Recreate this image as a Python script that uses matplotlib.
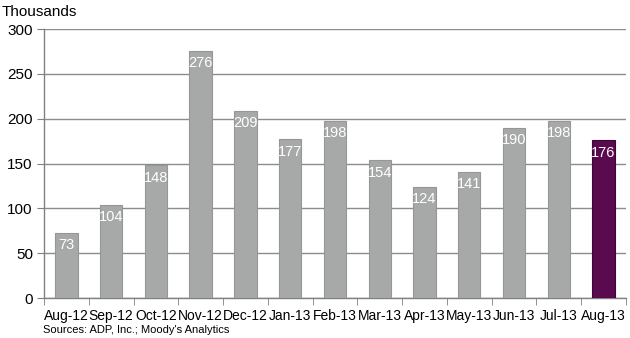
import matplotlib.pyplot as plt
import numpy as np

months = ["Aug-12", "Sep-12", "Oct-12", "Nov-12", "Dec-12", "Jan-13", "Feb-13",
          "Mar-13", "Apr-13", "May-13", "Jun-13", "Jul-13", "Aug-13"]
jobs = [73, 104, 148, 276, 209, 177, 198, 154, 124, 141, 190, 198, 176]

plt.rcParams['font.family'] = ['Liberation Sans', 'DejaVu Sans']

fig = plt.figure(figsize=(6.3, 3.38), dpi=100)
ax = fig.add_axes([0.0698, 0.118, 0.9237, 0.796])

x = np.arange(len(months))
colors = ["#A7A9A9"] * (len(months) - 1) + ["#5A0A4E"]
edges = ["#959797"] * (len(months) - 1) + ["#3E0636"]
bars = ax.bar(x, jobs, width=0.5, color=colors, edgecolor=edges, linewidth=0.8, zorder=3)

for xi, v in zip(x, jobs):
    ax.annotate(str(v), (xi, v), xytext=(0, -4), textcoords="offset points",
                ha="center", va="top", color="white", fontsize=10.5, zorder=4)

ax.set_xlim(-0.5, len(months) - 0.5)
ax.set_ylim(0, 300)
ax.set_yticks(range(0, 301, 50))
ax.set_xticks(x)
ax.set_xticklabels(months)
ax.set_xticks(np.arange(-0.5, len(months), 1), minor=True)
ax.tick_params(axis="x", which="major", length=0, pad=8, labelsize=10)
ax.tick_params(axis="x", which="minor", length=5, color="#808080", direction="out")
ax.tick_params(axis="y", length=5, color="#808080", labelsize=11, pad=3)
ax.yaxis.grid(True, color="#8C8C8C", linewidth=1, zorder=0)

for s in ["top", "right"]:
    ax.spines[s].set_visible(False)
for s in ["left", "bottom"]:
    ax.spines[s].set_color("#808080")
    ax.spines[s].set_linewidth(1)

fig.text(0.003, 0.965, "Thousands", fontsize=11, ha="left", va="center")
fig.text(0.068, 0.023, "Sources: ADP, Inc.; Moody's Analytics", fontsize=8, ha="left", va="center")

fig.savefig("out.png", dpi=100)
